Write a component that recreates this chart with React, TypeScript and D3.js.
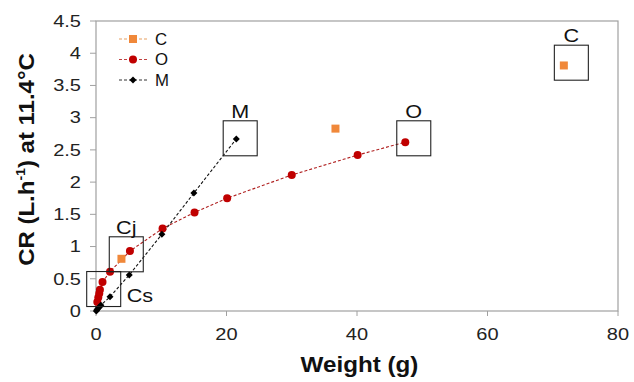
import React from "react";
import * as d3 from "d3";

const xTicks = [0, 20, 40, 60, 80];
const yTicks = [0, 0.5, 1, 1.5, 2, 2.5, 3, 3.5, 4, 4.5];

const cX = [3.9, 36.7, 71.7];
const cY = [0.81, 2.83, 3.81];

const oX = [0.2, 0.35, 0.5, 0.6, 1.0, 2.15, 5.2, 10.2, 15.1, 20.1, 30.0, 40.1, 47.4];
const oY = [0.14, 0.21, 0.27, 0.33, 0.45, 0.61, 0.93, 1.28, 1.53, 1.75, 2.11, 2.42, 2.62];

const mX = [0.05, 0.15, 0.3, 0.5, 0.75, 2.15, 5.1, 10.1, 15.0, 21.5];
const mY = [0.0, 0.02, 0.04, 0.06, 0.09, 0.22, 0.56, 1.19, 1.83, 2.67];

const boxLabels = ["C", "O", "M", "Cj", "Cs"];
const boxCx = [72.85, 48.7, 22.1, 4.64, 1.18];
const boxCy = [3.853, 2.68, 2.68, 0.88, 0.341];

const W = 634, H = 382;
const left = 96, right = 618, top = 21, bottom = 311;

function T(props: { x: number; y: number; sx?: number; rot?: number; size: number; anchor?: string; weight?: string; fill?: string; children?: React.ReactNode }) {
  const { x, y, sx = 1, rot = 0, size, anchor = "start", weight = "normal", fill = "#222", children } = props;
  return (
    <text transform={`translate(${x},${y}) rotate(${rot}) scale(${sx},1)`} textAnchor={anchor} fontSize={size} fontWeight={weight} fill={fill}>
      {children}
    </text>
  );
}

export default function App() {
  const x = d3.scaleLinear().domain([0, 80]).range([left, right]);
  const y = d3.scaleLinear().domain([0, 4.5]).range([bottom, top]);
  const line = d3.line<[number, number]>().x(d => x(d[0])).y(d => y(d[1]));
  const oPts: [number, number][] = oX.map((v, i) => [v, oY[i]]);
  const mPts: [number, number][] = mX.map((v, i) => [v, mY[i]]);
  const cPts: [number, number][] = cX.map((v, i) => [v, cY[i]]);
  const red = "#C00000";
  const orange = "#F0883A";
  const font = "Liberation Sans, Arial, sans-serif";
  const diamond = (cx: number, cy: number, r: number) =>
    `M${cx},${cy - r}L${cx + r},${cy}L${cx},${cy + r}L${cx - r},${cy}Z`;
  const legend = [
    { label: "C", color: orange, kind: "sq", line: "#E8A060" },
    { label: "O", color: red, kind: "ci", line: "#C04040" },
    { label: "M", color: "#000", kind: "di", line: "#333" },
  ];
  const bw = 34, bh = 35;
  return (
    <svg width={W} height={H} style={{ position: "absolute", left: 0, top: 0, background: "#fff" }} fontFamily={font}>
      <rect x={0} y={0} width={W} height={H} fill="#fff" />
      <rect x={left} y={top} width={right - left} height={bottom - top} fill="none" stroke="#A0A0A0" strokeWidth={1.2} />
      {yTicks.map(t => (
        <g key={"y" + t}>
          <line x1={left - 6} x2={left} y1={y(t)} y2={y(t)} stroke="#A0A0A0" />
          <T x={left - 15} y={y(t) + 5.8} sx={1.25} size={16} anchor="end">{t}</T>
        </g>
      ))}
      {xTicks.map(t => (
        <g key={"x" + t}>
          <line x1={x(t)} x2={x(t)} y1={bottom} y2={bottom + 5} stroke="#A0A0A0" />
          <T x={x(t)} y={340} sx={1.25} size={16} anchor="middle">{t}</T>
        </g>
      ))}
      <T x={359.5} y={372} sx={1.1} size={22} anchor="middle" weight="bold" fill="#111">Weight (g)</T>
      <T x={34} y={159.5} rot={-90} sx={1.09} size={22} anchor="middle" weight="bold" fill="#111">
        CR (L.h<tspan fontSize={13} dy={-9}>-1</tspan><tspan dy={9}>) at 11.4°C</tspan>
      </T>
      <path d={line(oPts) || ""} fill="none" stroke="#B02020" strokeWidth={1.1} strokeDasharray="3,2" />
      <path d={line(mPts) || ""} fill="none" stroke="#111" strokeWidth={1.1} strokeDasharray="3,2" />
      {oPts.map((p, i) => <circle key={"o" + i} cx={x(p[0])} cy={y(p[1])} r={4} fill={red} />)}
      {mPts.map((p, i) => <path key={"m" + i} d={diamond(x(p[0]), y(p[1]), 3.5)} fill="#000" />)}
      {cPts.map((p, i) => <rect key={"c" + i} x={x(p[0]) - 4} y={y(p[1]) - 4} width={8} height={8} fill={orange} />)}
      {boxLabels.map((lab, i) => {
        const bx = x(boxCx[i]) - bw / 2;
        const by = y(boxCy[i]) - bh / 2;
        const isCs = lab === "Cs";
        return (
          <g key={"b" + lab}>
            <rect x={bx} y={by} width={bw} height={bh} fill="none" stroke="#222" strokeWidth={1.1} />
            {isCs ? (
              <T x={bx + bw + 6} y={by + bh - 5} sx={1.2} size={18} fill="#111">{lab}</T>
            ) : (
              <T x={bx + bw / 2} y={by - 3} sx={1.2} size={18} anchor="middle" fill="#111">{lab}</T>
            )}
          </g>
        );
      })}
      {legend.map((l, i) => {
        const ly = 39 + i * 20.5;
        return (
          <g key={"l" + l.label}>
            <line x1={119} x2={147} y1={ly} y2={ly} stroke={l.line} strokeWidth={1.1} strokeDasharray="3,2" />
            {l.kind === "sq" && <rect x={129} y={ly - 4} width={8} height={8} fill={l.color} />}
            {l.kind === "ci" && <circle cx={133} cy={ly} r={4} fill={l.color} />}
            {l.kind === "di" && <path d={diamond(133, ly, 3.5)} fill={l.color} />}
            <T x={155} y={ly + 5.8} sx={1.05} size={16} fill="#111">{l.label}</T>
          </g>
        );
      })}
    </svg>
  );
}
